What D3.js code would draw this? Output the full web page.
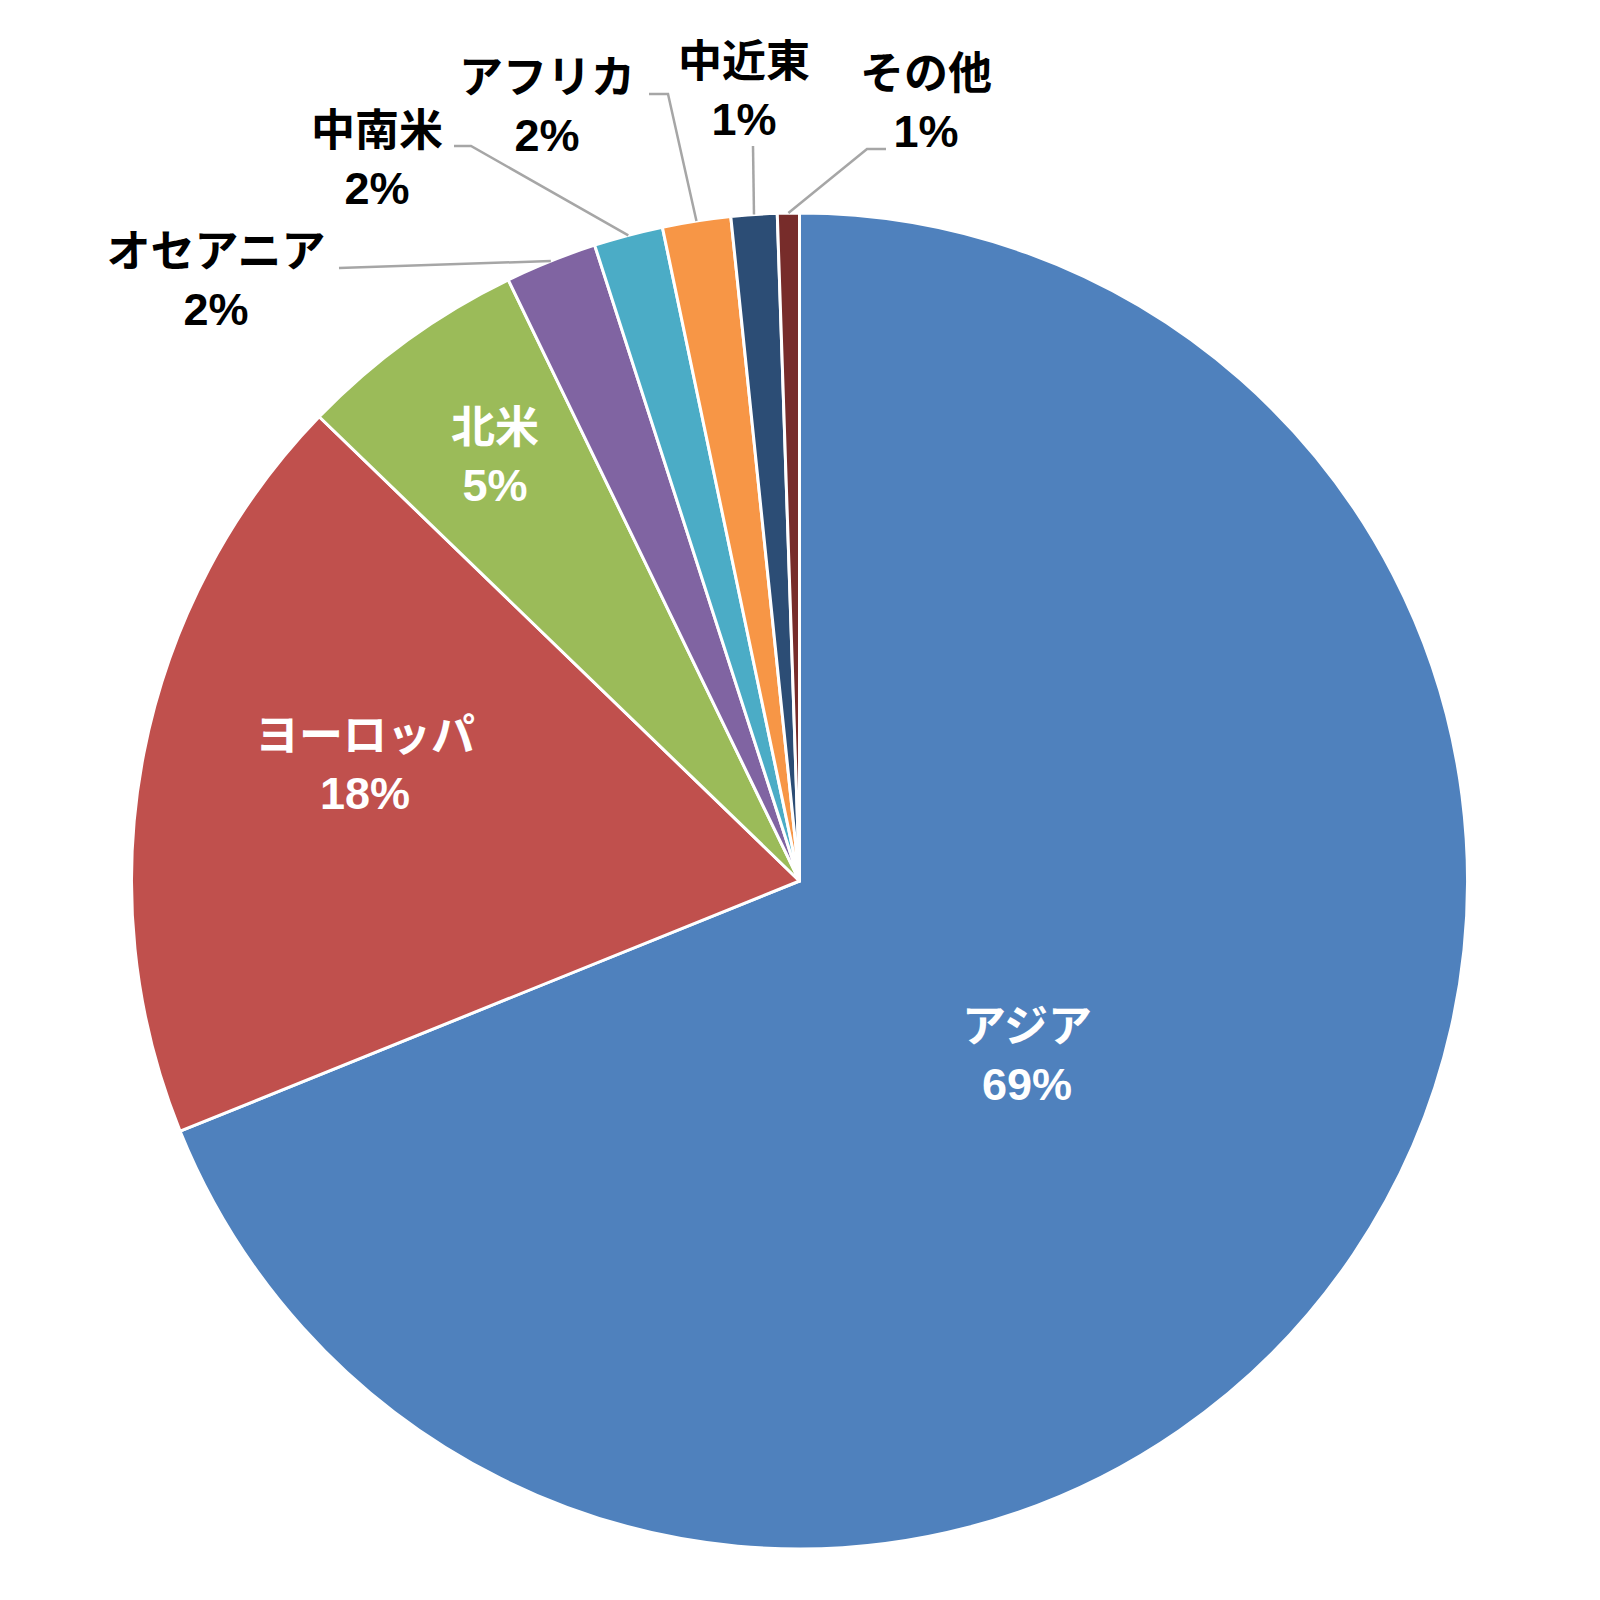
<!DOCTYPE html>
<html>
<head>
<meta charset="utf-8">
<script src="https://cdn.jsdelivr.net/npm/d3@7"></script>
<style>
  html, body { margin: 0; padding: 0; background: #ffffff; }
  svg { display: block; }
</style>
</head>
<body>
<svg id="chart" width="1600" height="1600"></svg>
<script>
// ---- data ----
const categories = ["アジア", "ヨーロッパ", "北米", "オセアニア", "中南米", "アフリカ", "中近東", "その他"];
const values = [68.89, 18.34, 5.59, 2.22, 1.67, 1.65, 1.11, 0.53];
const percentLabels = ["69%", "18%", "5%", "2%", "2%", "2%", "1%", "1%"];
const colors = ["#4F81BD", "#C0504D", "#9BBB59", "#8064A2", "#4BACC6", "#F79646", "#2C4D75", "#772C2A"];

// ---- layout (label placement) ----
const cx = 799.5, cy = 881, R = 668;
const labelLayout = [
  { x: 1027, y: 1026, inside: true },
  { x: 365,  y: 735,  inside: true },
  { x: 495,  y: 427,  inside: true },
  { x: 216,  y: 251,  inside: false, leader: [[339, 268]] },
  { x: 377,  y: 130,  inside: false, leader: [[454, 146], [471, 146]] },
  { x: 547,  y: 77,   inside: false, leader: [[649, 94], [668, 94]] },
  { x: 744,  y: 61,   inside: false, leader: [[753, 146]] },
  { x: 926,  y: 73,   inside: false, leader: [[886, 149], [867, 149]] }
];
const lineGap = 58;
const nameSize = 44;
const pctSize = 45;

const svg = d3.select("#chart");
svg.append("rect").attr("width", 1600).attr("height", 1600).attr("fill", "#ffffff");

const data = categories.map((c, i) => ({ name: c, value: values[i], pct: percentLabels[i], color: colors[i], layout: labelLayout[i] }));

const pie = d3.pie().value(d => d.value).sort(null).startAngle(0).endAngle(2 * Math.PI);
const arcs = pie(data);
const arc = d3.arc().innerRadius(0).outerRadius(R);

const g = svg.append("g").attr("transform", `translate(${cx},${cy})`);

g.selectAll("path.slice")
  .data(arcs)
  .enter().append("path")
  .attr("class", "slice")
  .attr("d", arc)
  .attr("fill", d => d.data.color)
  .attr("stroke", "#ffffff")
  .attr("stroke-width", 3)
  .attr("stroke-linejoin", "round");

// leader lines
const line = d3.line();
arcs.forEach(a => {
  const L = a.data.layout;
  if (!L.leader) return;
  const mid = (a.startAngle + a.endAngle) / 2;
  const end = [cx + R * Math.sin(mid), cy - R * Math.cos(mid)];
  const pts = L.leader.concat([end]);
  svg.append("path")
    .attr("d", line(pts))
    .attr("fill", "none")
    .attr("stroke", "#A6A6A6")
    .attr("stroke-width", 2.5);
});

// labels
arcs.forEach(a => {
  const L = a.data.layout;
  const t = svg.append("text")
    .attr("x", L.x)
    .attr("y", L.y)
    .attr("text-anchor", "middle")
    .attr("font-family", "'Liberation Sans', Arial, 'Noto Sans CJK JP', sans-serif")
    .attr("font-weight", "bold")
    .attr("fill", L.inside ? "#ffffff" : "#000000");
  t.append("tspan").attr("x", L.x).attr("font-size", nameSize).attr("dominant-baseline", "central").text(a.data.name);
  t.append("tspan").attr("x", L.x).attr("y", L.y + lineGap).attr("font-size", pctSize).attr("dominant-baseline", "central").text(a.data.pct);
});
</script>
</body>
</html>
